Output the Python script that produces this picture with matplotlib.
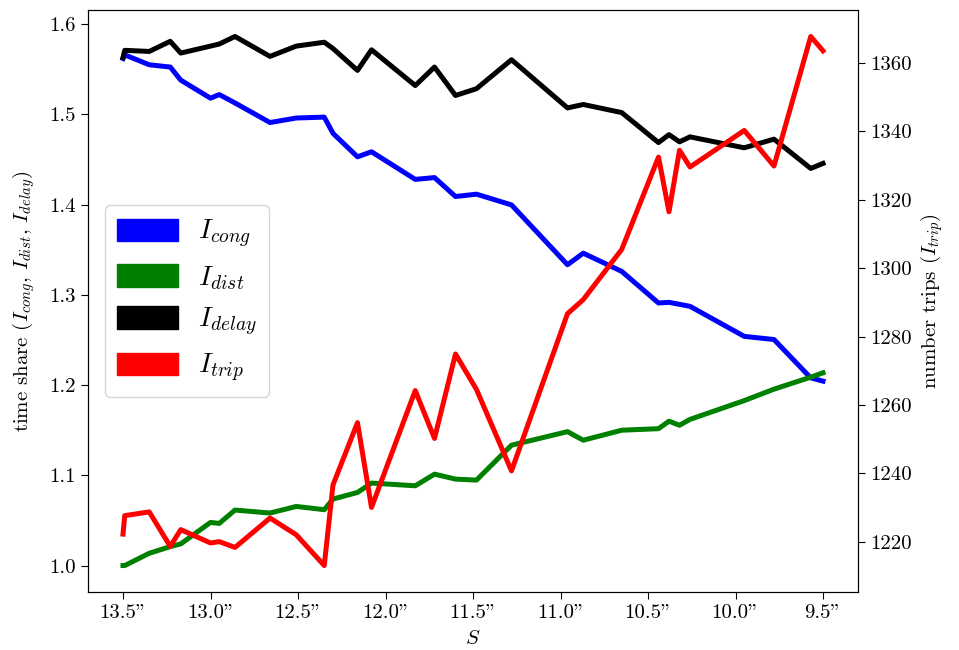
import matplotlib
matplotlib.use("Agg")
import matplotlib.pyplot as plt
from matplotlib.patches import Patch

plt.rcParams["font.family"] = "serif"
plt.rcParams["font.serif"] = ["cmr10"]
plt.rcParams["mathtext.fontset"] = "cm"
plt.rcParams["axes.formatter.use_mathtext"] = True
plt.rcParams["axes.unicode_minus"] = False

# Scale parameter S (decreasing)
s_values = [13.5, 13.49, 13.35, 13.23, 13.17, 13.0, 12.95, 12.86, 12.66, 12.51,
            12.35, 12.30, 12.16, 12.08, 11.83, 11.72, 11.60, 11.48, 11.28, 10.96,
            10.87, 10.65, 10.44, 10.38, 10.32, 10.26, 9.95, 9.78, 9.57, 9.5]

i_cong = [1.562, 1.566, 1.555, 1.5525, 1.538, 1.518, 1.522, 1.5127, 1.491, 1.496,
          1.497, 1.479, 1.453, 1.4586, 1.428, 1.430, 1.409, 1.4116, 1.3997, 1.3334,
          1.3462, 1.326, 1.291, 1.2917, 1.2895, 1.2873, 1.254, 1.2505, 1.208, 1.2044]

i_dist = [1.000, 1.000, 1.0136, 1.021, 1.024, 1.0478, 1.0467, 1.0615, 1.0582, 1.0655,
          1.0619, 1.0737, 1.081, 1.0914, 1.0884, 1.1013, 1.0958, 1.0947, 1.1334, 1.1484,
          1.1389, 1.150, 1.1517, 1.160, 1.1555, 1.162, 1.1828, 1.1955, 1.2088, 1.2136]

i_delay = [1.563, 1.571, 1.5698, 1.581, 1.568, 1.5757, 1.578, 1.5864, 1.5643, 1.5757,
           1.580, 1.573, 1.5488, 1.5716, 1.532, 1.5525, 1.521, 1.5285, 1.5606, 1.5072,
           1.511, 1.502, 1.4688, 1.4776, 1.4696, 1.4751, 1.463, 1.4726, 1.4401, 1.4457]

i_trip = [1222.2, 1227.6, 1228.7, 1218.6, 1223.5, 1219.6, 1220.0, 1218.3, 1226.9, 1222.0,
          1213.0, 1236.6, 1254.8, 1230.0, 1264.2, 1250.2, 1274.9, 1264.5, 1240.7, 1286.7,
          1290.8, 1305.5, 1332.5, 1316.5, 1334.5, 1329.6, 1340.3, 1329.9, 1367.8, 1363.6]

x_ticks = [13.5, 13.0, 12.5, 12.0, 11.5, 11.0, 10.5, 10.0, 9.5]
x_ticklabels = ['13.5"', '13.0"', '12.5"', '12.0"', '11.5"', '11.0"', '10.5"', '10.0"', '9.5"']
left_ticks = [1.0, 1.1, 1.2, 1.3, 1.4, 1.5, 1.6]
left_ticklabels = ["1.0", "1.1", "1.2", "1.3", "1.4", "1.5", "1.6"]
right_ticks = [1220, 1240, 1260, 1280, 1300, 1320, 1340, 1360]
right_ticklabels = ["1220", "1240", "1260", "1280", "1300", "1320", "1340", "1360"]

labels = [r"$I_{cong}$", r"$I_{dist}$", r"$I_{delay}$", r"$I_{trip}$"]
colors = ["blue", "green", "black", "red"]

fig, ax = plt.subplots(figsize=(9.59, 6.5), dpi=100)
fig.subplots_adjust(left=88 / 959, right=858 / 959, top=1 - 10 / 650, bottom=1 - 592 / 650)

lw = 3.6
ax.plot(s_values, i_cong, color=colors[0], lw=lw)
ax.plot(s_values, i_dist, color=colors[1], lw=lw)
ax.plot(s_values, i_delay, color=colors[2], lw=lw)
ax.invert_xaxis()

ax2 = ax.twinx()
ax2.plot(s_values, i_trip, color=colors[3], lw=lw)

ax.set_xticks(x_ticks)
ax.set_xticklabels(x_ticklabels)
ax.set_yticks(left_ticks)
ax.set_yticklabels(left_ticklabels)
ax2.set_yticks(right_ticks)
ax2.set_yticklabels(right_ticklabels)

for a in (ax, ax2):
    a.tick_params(labelsize=15, length=5)

ax.set_xlabel(r"$S$", fontsize=15, labelpad=6)
ax.set_ylabel(r"time share $(I_{cong},\, I_{dist},\, I_{delay})$", fontsize=15, labelpad=9)
ax2.set_ylabel(r"number trips $(I_{trip})$", fontsize=15, labelpad=5)

handles = [Patch(facecolor=c, edgecolor=c) for c in colors]
ax.legend(handles, labels, loc="center left", fontsize=20,
          handlelength=2.2, handleheight=0.85, handletextpad=0.7,
          borderaxespad=0.6, labelspacing=0.5, borderpad=0.45)

fig.savefig("out.png", dpi=100)
